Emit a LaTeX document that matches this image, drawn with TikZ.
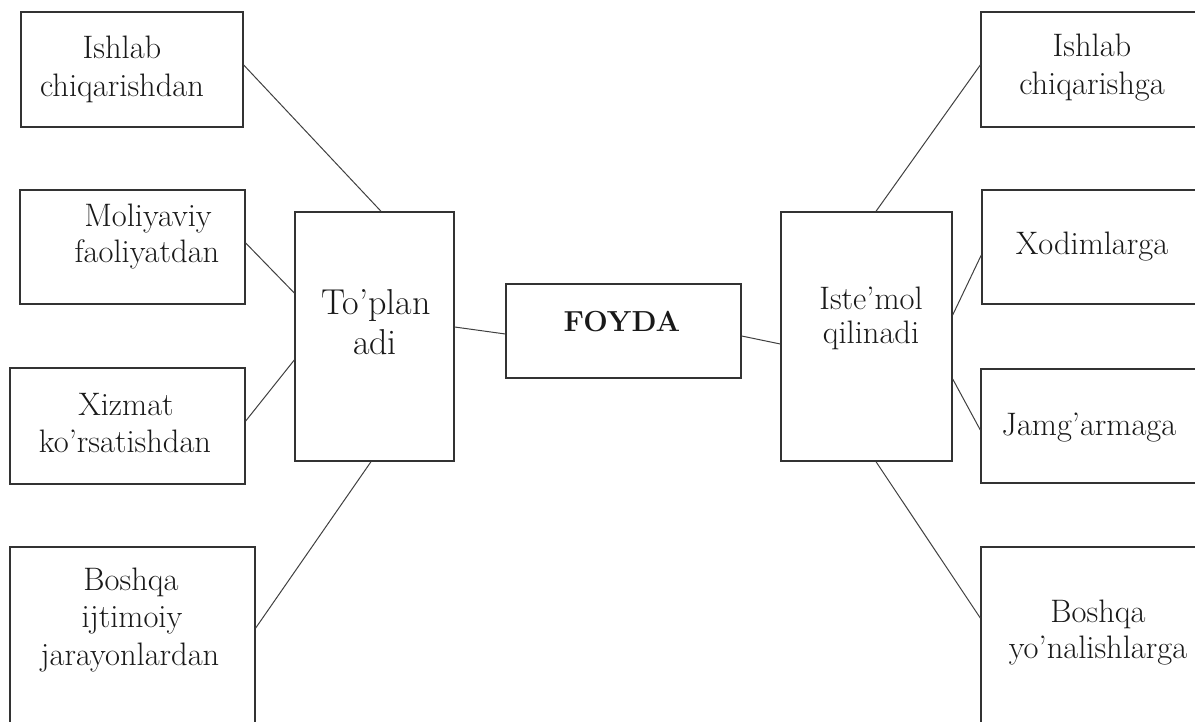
\documentclass[tikz,border=0pt]{standalone}
\usetikzlibrary{positioning}
\begin{document}
\begin{tikzpicture}[x=1pt,y=-1pt,
  box/.style={draw=black!80,line width=1.4pt,rectangle,inner sep=0pt,fill=none},
  link/.style={draw=black!75,line width=1pt},
  txt/.style={anchor=base,inner sep=0pt,font=\fontsize{32.5}{37}\selectfont,text=black!90},
  bigtxt/.style={anchor=base,inner sep=0pt,font=\fontsize{36}{40}\selectfont,text=black!90}]
\clip (0,0) rectangle (1195,722);

% sources (left column)
\node[box,minimum width=222pt,minimum height=115pt] (L1) at (132,69.5) {};
\node[box,minimum width=225pt,minimum height=114pt] (L2) at (132.5,247) {};
\node[box,minimum width=235pt,minimum height=116pt] (L3) at (127.5,426) {};
\node[box,minimum width=245pt,minimum height=223pt] (L4) at (132.5,658.5) {};

% centre
\node[box,minimum width=159pt,minimum height=249pt] (T) at (374.5,336.5) {};
\node[box,minimum width=235pt,minimum height=94pt] (F) at (623.5,331) {};
\node[box,minimum width=171pt,minimum height=249pt] (I) at (866.5,336.5) {};

% uses (right column)
\node[box,minimum width=229pt,minimum height=115pt] (R1) at (1095.5,69.5) {};
\node[box,minimum width=228pt,minimum height=114pt] (R2) at (1096,247) {};
\node[box,minimum width=229pt,minimum height=114pt] (R3) at (1095.5,426) {};
\node[box,minimum width=229pt,minimum height=223pt] (R4) at (1095.5,658.5) {};

% labels
\node[txt] (l1a) at (122,59) {Ishlab};
\node[txt] (l1b) at (122,97) {chiqarishdan};
\node[txt] (l2a) at (148,227) {Moliyaviy};
\node[txt] (l2b) at (147,263) {faoliyatdan};
\node[txt] (l3a) at (126,415) {Xizmat};
\node[txt] (l3b) at (125,452) {ko’rsatishdan};
\node[txt] (l4a) at (131,590) {Boshqa};
\node[txt] (l4b) at (132,627) {ijtimoiy};
\node[txt] (l4c) at (130,665) {jarayonlardan};

\node[bigtxt] (ta) at (376,315) {To’plan};
\node[bigtxt] (tb) at (375,355) {adi};
\node[bigtxt,font=\fontsize{29}{37}\selectfont\bfseries] (fa) at (622,331) {FOYDA};
\node[txt] (ia) at (871,310) {Iste’mol};
\node[txt] (ib) at (871,343) {qilinadi};

\node[txt] (r1a) at (1092,57) {Ishlab};
\node[txt] (r1b) at (1092,95) {chiqarishga};
\node[txt] (r2a) at (1092,255) {Xodimlarga};
\node[txt] (r3a) at (1089,435) {Jamg’armaga};
\node[txt] (r4a) at (1098,622) {Boshqa};
\node[txt] (r4b) at (1098,658) {yo’nalishlarga};

% connectors
\draw[link] ([yshift=4.5pt]L1.east) -- ([xshift=6.5pt]T.north);
\draw[link] ([yshift=4pt]L2.east) -- ([yshift=43.5pt]T.west);
\draw[link] ([yshift=5pt]L3.east) -- ([yshift=-23.5pt]T.west);
\draw[link] ([yshift=30.5pt]L4.east) -- ([xshift=-3.5pt]T.south);
\draw[link] ([yshift=9.5pt]T.east) -- ([yshift=-3pt]F.west);
\draw[link] ([yshift=-5pt]F.east) -- ([yshift=-7.5pt]I.west);
\draw[link] ([xshift=9.5pt]I.north) -- ([yshift=4.5pt]R1.west);
\draw[link] ([yshift=21.5pt]I.east) -- ([yshift=-8pt]R2.west);
\draw[link] ([yshift=-42.5pt]I.east) -- ([yshift=-4pt]R3.west);
\draw[link] ([xshift=9.5pt]I.south) -- ([yshift=40.5pt]R4.west);
\end{tikzpicture}
\end{document}
